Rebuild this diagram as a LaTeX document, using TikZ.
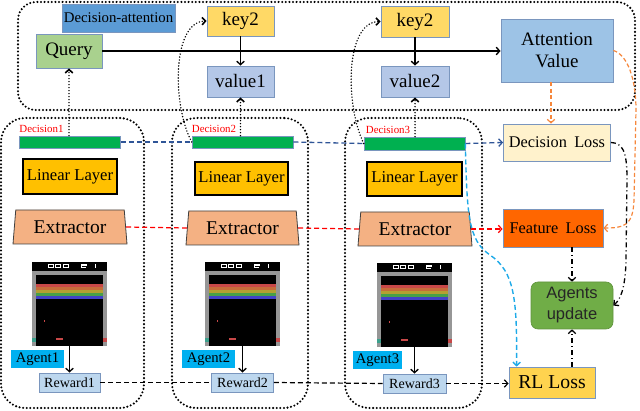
\documentclass[tikz,border=0pt]{standalone}
\usepackage{fontspec}
\setmainfont{Liberation Serif}
\newfontfamily\sansf{Liberation Sans}
\usetikzlibrary{arrows.meta,shapes.geometric}
\definecolor{bordc}{RGB}{122,150,190}
\definecolor{cDA}{HTML}{5B9BD5}
\definecolor{cQuery}{HTML}{A9D18E}
\definecolor{cKey}{HTML}{FFD966}
\definecolor{cVal}{HTML}{B4C7E7}
\definecolor{cAttn}{HTML}{9DC3E6}
\definecolor{cBar}{HTML}{00B050}
\definecolor{cLin}{HTML}{FFC000}
\definecolor{cExt}{HTML}{F4B183}
\definecolor{cDL}{HTML}{FFF2CC}
\definecolor{cFL}{HTML}{FF6600}
\definecolor{cAU}{HTML}{70AD47}
\definecolor{cRL}{HTML}{FFD34F}
\definecolor{cAg}{HTML}{00B0F0}
\definecolor{cRw}{HTML}{BDD7EE}
\definecolor{cBlueL}{HTML}{2F5597}
\definecolor{cOrL}{RGB}{246,135,60}
\definecolor{cCyL}{HTML}{1EAAE8}
\definecolor{bRed}{RGB}{200,72,72}
\definecolor{bOr}{RGB}{198,108,58}
\definecolor{bYe}{RGB}{180,160,50}
\definecolor{bGr}{RGB}{72,160,72}
\definecolor{bBl}{RGB}{66,66,200}
\definecolor{bGray}{RGB}{150,150,150}
\definecolor{bTeal}{RGB}{60,160,140}
\tikzset{
  box/.style={draw=bordc, line width=0.8pt, inner sep=0pt, align=center, font=\fontsize{19}{22}\selectfont},
  medbox/.style={box, font=\fontsize{16.3}{19}\selectfont},
  smallbox/.style={box, font=\fontsize{14}{16}\selectfont},
  linbox/.style={draw=black, line width=1.3pt, fill=cLin, inner sep=0pt, font=\fontsize{16.6}{19}\selectfont},
  extbox/.style={trapezium, trapezium left angle=78, trapezium right angle=78, trapezium stretches body,
     draw=black!75, line width=0.8pt, fill=cExt, inner sep=0pt, minimum width=114pt, minimum height=34pt,
     font=\fontsize{19.5}{22}\selectfont},
  barbox/.style={draw=bordc, line width=0.6pt, fill=cBar, inner sep=0pt, minimum width=101pt, minimum height=12pt},
  declab/.style={text=red, inner sep=0pt, font=\fontsize{10.9}{12}\selectfont},
  agentbox/.style={fill=cAg, inner sep=0pt, minimum height=18pt, font=\fontsize{14.7}{16}\selectfont},
  rewbox/.style={draw=bordc, line width=0.8pt, fill=cRw, inner sep=0pt, minimum height=19pt, font=\fontsize{14}{16}\selectfont},
  frame/.style={draw=black, line width=2.3pt, dash pattern=on 0pt off 3.6pt, line cap=round, inner sep=0pt},
  tip/.style={-{Straight Barb[length=3.5pt,width=7.5pt]}},
  dotarr/.style={tip, line width=1.6pt, dash pattern=on 0pt off 3pt, line cap=round},
  solarr/.style={tip, line width=1.3pt},
  bdash/.style={line width=1.3pt, dash pattern=on 5pt off 3pt, cBlueL},
  rdash/.style={line width=1.2pt, dash pattern=on 5pt off 3pt, red},
  kdash/.style={line width=1.2pt, dash pattern=on 5pt off 3pt, black},
  odash/.style={line width=1.2pt, dash pattern=on 4pt off 2.5pt, cOrL},
  cdash/.style={line width=1.4pt, dash pattern=on 5pt off 3pt, cCyL},
  ddot/.style={line width=1.3pt, dash pattern=on 5pt off 3pt on 1pt off 3pt, black},
  breakout/.pic={
    \fill[bGray] (0,9) rectangle (75,84);
    \fill[black] (0,0) rectangle (75,9);
    \fill[black] (3.7,13) rectangle (71.3,84);
    \fill[bRed] (3.7,22) rectangle (71.3,25);
    \fill[bOr] (3.7,25) rectangle (71.3,28);
    \fill[bYe] (3.7,28) rectangle (71.3,31);
    \fill[bGr] (3.7,31) rectangle (71.3,34);
    \fill[bBl] (3.7,34) rectangle (71.3,37);
    \foreach \xx in {16,23.5,31} {\draw[white, line width=0.8pt] (\xx,2.3) rectangle ++(5,3);}
    \draw[white, line width=0.8pt] (49,2.3) -- (54,2.3) -- (54,3.8) -- (49,3.8) -- (49,5.3) -- (54,5.3);
    \fill[white] (63,1.8) rectangle (64.3,5.8);
    \fill[bRed] (12,58) rectangle ++(1.2,1.8);
    \fill[bRed] (24,76.5) rectangle (31,78.2);
    \fill[bTeal] (0,76) rectangle (3.7,80);
    \fill[bRed] (71.3,76) rectangle (75,80);
  }
}
\begin{document}
\begin{tikzpicture}[x=1pt,y=-1pt]
\useasboundingbox (0,0) rectangle (640,411);

% frames
\node[frame, rounded corners=18pt, minimum width=617pt, minimum height=108pt] (topframe) at (326.5,56) {};
\node[frame, rounded corners=24pt, minimum width=143pt, minimum height=290pt] (frame1) at (72.5,263) {};
\node[frame, rounded corners=24pt, minimum width=136pt, minimum height=290pt] (frame2) at (240,263) {};
\node[frame, rounded corners=24pt, minimum width=137pt, minimum height=290pt] (frame3) at (413.5,263) {};

% attention part
\node[smallbox, fill=cDA, minimum width=113pt, minimum height=28pt, font=\fontsize{14.8}{16}\selectfont] (decatt) at (118.5,18) {Decision-attention};
\node[box, fill=cQuery, minimum width=66pt, minimum height=34pt] (query) at (69,51) {Query};
\node[box, fill=cKey, minimum width=67pt, minimum height=30pt] (keyA) at (240.5,21) {key2};
\node[box, fill=cVal, minimum width=67pt, minimum height=31pt] (value1) at (240.5,81.5) {value1};
\node[box, fill=cKey, minimum width=68pt, minimum height=31pt] (keyB) at (415,21.5) {key2};
\node[box, fill=cVal, minimum width=68pt, minimum height=31pt] (value2) at (415,81.5) {value2};
\node[box, fill=cAttn, minimum width=112pt, minimum height=63pt] (attn) at (557,50.5) {Attention\\Value};

% decision bars
\node[barbox] (bar1) at (70,142) {};
\node[barbox] (bar2) at (242.5,142) {};
\node[barbox, minimum height=13pt] (bar3) at (414.5,143.5) {};
\node[declab, anchor=south west] (dlab1) at ([yshift=3pt]bar1.north west) {Decision1};
\node[declab, anchor=south west] (dlab2) at ([yshift=3pt]bar2.north west) {Decision2};
\node[declab, anchor=south west] (dlab3) at ([xshift=2pt,yshift=3pt]bar3.north west) {Decision3};

% linear layers
\node[linbox, minimum width=94pt, minimum height=35pt] (lin1) at (70,176.5) {Linear Layer};
\node[linbox, minimum width=93pt, minimum height=33pt] (lin2) at (241.5,178.5) {Linear Layer};
\node[linbox, minimum width=95pt, minimum height=34pt] (lin3) at (414.5,179) {Linear Layer};

% extractors
\node[extbox] (ext1) at (70,227) {Extractor};
\node[extbox, minimum width=113pt] (ext2) at (242.5,228) {Extractor};
\node[extbox] (ext3) at (415,229) {Extractor};

% games
\pic at (32,262) {breakout};
\pic at (205,262) {breakout};
\pic at (377,263) {breakout};
\node[inner sep=0pt, minimum width=75pt, minimum height=84pt] (game1) at (69.5,304) {};
\node[inner sep=0pt, minimum width=75pt, minimum height=84pt] (game2) at (242.5,304) {};
\node[inner sep=0pt, minimum width=75pt, minimum height=84pt] (game3) at (414.5,305) {};

% agents and rewards
\node[agentbox, minimum width=53pt] (ag1) at (37.5,359) {Agent1};
\node[agentbox, minimum width=53pt] (ag2) at (208.5,359) {Agent2};
\node[agentbox, minimum width=49pt] (ag3) at (377.5,360) {Agent3};
\node[rewbox, minimum width=61pt] (rew1) at (69.5,382.5) {Reward1};
\node[rewbox, minimum width=62pt] (rew2) at (242.5,382.5) {Reward2};
\node[rewbox, minimum width=63pt] (rew3) at (414.5,383.5) {Reward3};

% losses
\node[medbox, fill=cDL, minimum width=107pt, minimum height=37pt] (declos) at (557,142.5) {Decision\hspace{0.45em}Loss};
\node[medbox, fill=cFL, minimum width=100pt, minimum height=38pt] (featlos) at (553,228) {Feature\hspace{0.45em}Loss};
\node[draw=cAU!85!black, line width=0.6pt, fill=cAU, rounded corners=7pt, inner sep=0pt, minimum width=82pt, minimum height=47pt,
      align=center, font=\sansf\fontsize{16.5}{21}\selectfont, text=black!85] (agupd) at (572,305.5) {Agents\\update};
\node[box, fill=cRL, minimum width=86pt, minimum height=31pt, font=\fontsize{19.7}{22}\selectfont] (rlloss) at (552,382.5) {RL Loss};

% connectors: attention
\draw[solarr] (query.east) -- (attn.west |- query.east);
\draw[solarr] (keyA.south) -- (value1.north);
\draw[solarr] (keyB.south) -- (value2.north);
\draw[dotarr] (query.south |- bar1.north) -- (query.south);
\draw[dotarr] (value1.south |- bar2.north) -- (value1.south);
\draw[dotarr] (value2.south |- bar3.north) -- (value2.south);
\draw[dotarr] (bar2.west) .. controls (172,105) and (172,22) .. (keyA.west);
\draw[dotarr] (bar3.west) .. controls (345,105) and (345,22) .. (keyB.west);

% decision dashed
\draw[bdash] (bar1.east) -- (bar2.west);
\draw[bdash] (bar2.east) -- (bar3.west);
\draw[bdash, tip] (bar3.east) -- (declos.west);

% feature dashed
\draw[rdash] (ext1.east) -- (ext2.west);
\draw[rdash] (ext2.east) -- (ext3.west);
\draw[rdash, tip] (ext3.east) -- (featlos.west |- ext3.east);

% reward dashed
\draw[kdash] (rew1.east) -- (rew2.west);
\draw[kdash] (rew2.east) -- (rew3.west);
\draw[kdash, tip] (rew3.east) -- (rlloss.west |- rew3.east);

% game to reward
\draw[solarr] (game1.south) -- (rew1.north);
\draw[solarr] (game2.south) -- (rew2.north);
\draw[solarr] (game3.south) -- (rew3.north);

% orange
\draw[odash, tip] ([xshift=-6pt]attn.south) -- ([xshift=-6pt]declos.north);
\draw[odash, tip] (attn.east) .. controls (628,55) and (636,80) .. (636,110) -- (634,200) .. controls (633,226) and (624,228) .. (featlos.east);

% cyan
\draw[cdash, tip] (bar3.east) .. controls (467,215) and (468,240) .. (490,255) .. controls (515,272) and (517,300) .. ([xshift=8pt]rlloss.north west);

% dash-dot to agents update
\draw[ddot, tip] (declos.east) .. controls (622,143) and (627,150) .. (627,178) -- (626,262) .. controls (625,290) and (620,300) .. (agupd.east);
\draw[ddot, tip] (featlos.south -| agupd.north) -- (agupd.north);
\draw[ddot, tip] (rlloss.north -| agupd.south) -- (agupd.south);
\end{tikzpicture}
\end{document}
